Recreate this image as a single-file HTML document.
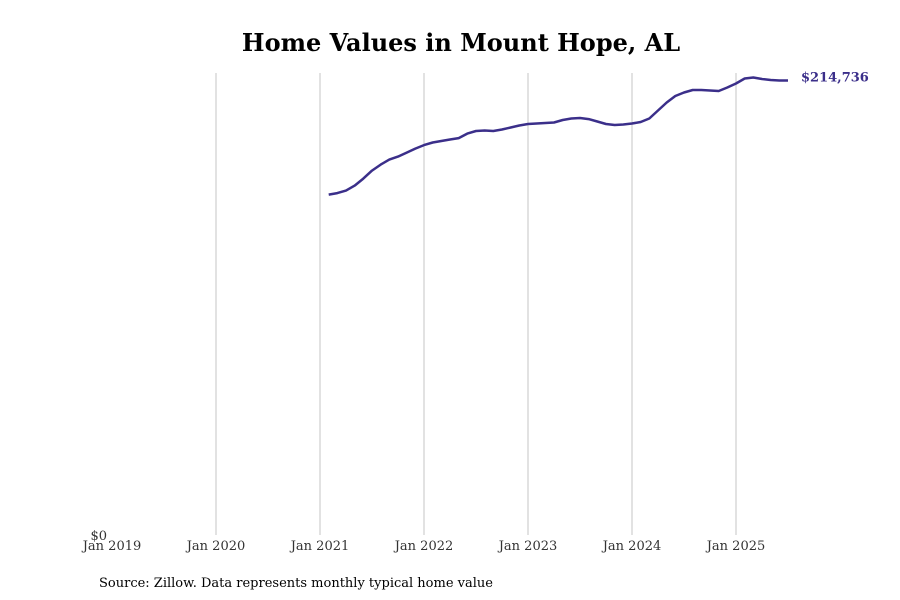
<!DOCTYPE html>
<html><head><meta charset="utf-8"><style>
body{margin:0;background:#fff;}
svg{display:block;font-family:"DejaVu Serif","Liberation Serif",serif;}
</style></head><body>
<svg width="900" height="600" viewBox="0 0 900 600">
<text x="461" y="51" text-anchor="middle" font-size="24" font-weight="bold" fill="#000">Home Values in Mount Hope, AL</text>
<g id="grid"></g>
<g id="xlabels"></g>
<text x="107" y="540" text-anchor="end" font-size="13" fill="#333">$0</text>
<path id="line" fill="none" stroke="#3b2f8a" stroke-width="2.5" stroke-linejoin="round"/>
<text id="endlabel" font-size="13" font-weight="bold" fill="#3b2f8a"></text>
<text x="99" y="587" font-size="13" fill="#000">Source: Zillow. Data represents monthly typical home value</text>
</svg>
<script>
const tickLabels=["Jan 2019","Jan 2020","Jan 2021","Jan 2022","Jan 2023","Jan 2024","Jan 2025"];
const startMonthIndex=25; // months since Jan 2019 (Feb 2021)
const values=[160820,161530,162710,165080,168390,172170,175010,177380,178790,180690,182580,
184230,185420,186130,186840,187540,189670,190860,191090,190860,191570,192510,193460,
194170,194400,194640,194880,196060,196770,197000,196500,195350,194170,193690,193930,
194400,195110,196770,200550,204340,207410,209070,210250,210250,210010,209780,211430,
213320,215690,216160,215450,214980,214740,214736];
const NS="http://www.w3.org/2000/svg";
const x=m=>112+m*104/12;
const y=v=>535-v/214736*454.5;
const grid=document.getElementById('grid'),xl=document.getElementById('xlabels');
tickLabels.forEach((t,i)=>{
 if(i>0){const l=document.createElementNS(NS,'line');
 
 
 l.setAttribute('x1',x(i*12));l.setAttribute('x2',x(i*12));l.setAttribute('y1',73);l.setAttribute('y2',535);
 l.setAttribute('stroke','#c4c4c4');l.setAttribute('stroke-width','1');grid.appendChild(l);}
 const tx=document.createElementNS(NS,'text');
 
 
 tx.setAttribute('x',x(i*12));tx.setAttribute('y',550);tx.setAttribute('text-anchor','middle');
 tx.setAttribute('font-size','13');tx.setAttribute('fill','#333');tx.textContent=t;xl.appendChild(tx);
});
document.getElementById('line').setAttribute('d',values.map((v,i)=>(i?'L':'M')+x(startMonthIndex+i).toFixed(1)+','+y(v).toFixed(1)).join(''));
const last=values[values.length-1],el=document.getElementById('endlabel');
el.setAttribute('x',x(startMonthIndex+values.length-1)+13);el.setAttribute('y',y(last)+1);
el.textContent='$'+last.toLocaleString('en-US');
</script>
</body></html>
